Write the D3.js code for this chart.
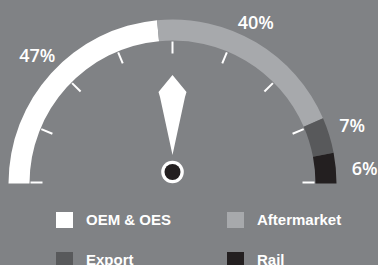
<!DOCTYPE html>
<html>
<head>
<meta charset="utf-8">
<script src="https://cdn.jsdelivr.net/npm/d3@7"></script>
<style>
  body { margin: 0; background: #808285; }
  svg { display: block; }
</style>
</head>
<body>
<script>
const categories = ["OEM & OES", "Aftermarket", "Export", "Rail"];
const shares = [47, 40, 7, 6];
const shareLabels = ["47%", "40%", "7%", "6%"];
const colors = ["#ffffff", "#a7a9ac", "#58595b", "#231f20"];
const tickSteps = d3.range(0, 9);

const width = 378, height = 265;
const cx = 172.5, cy = 183.5;
const outerR = 164, innerR = 143;

const svg = d3.select("body").append("svg")
    .attr("width", width)
    .attr("height", height);

const g = svg.append("g").attr("transform", `translate(${cx},${cy})`);

const pie = d3.pie()
    .sort(null)
    .startAngle(-Math.PI / 2)
    .endAngle(Math.PI / 2);

const arc = d3.arc().innerRadius(innerR).outerRadius(outerR);
const labelArc = d3.arc().innerRadius(187).outerRadius(187);

const slices = pie(shares);

g.selectAll("path.seg")
    .data(slices)
    .enter()
    .append("path")
    .attr("class", "seg")
    .attr("d", arc)
    .attr("fill", (d, i) => colors[i]);

// small hand nudges so the labels sit where the original put them
const nudge = [[3, -2], [-12, 0], [1, -3], [6, 3]];
g.selectAll("text.pct")
    .data(slices)
    .enter()
    .append("text")
    .attr("class", "pct")
    .attr("transform", (d, i) => {
        const c = labelArc.centroid(d);
        return `translate(${c[0] + nudge[i][0]},${c[1] + nudge[i][1]})`;
    })
    .attr("text-anchor", "middle")
    .attr("dy", "0.36em")
    .attr("fill", "#fff")
    .style("font-family", "'Open Sans', 'Liberation Sans', sans-serif")
    .style("font-weight", 600)
    .style("font-size", "18px")
    .text((d, i) => shareLabels[i]);

// tick marks
const tickAngle = d3.scaleLinear().domain([0, 8]).range([-Math.PI / 2, Math.PI / 2]);
g.selectAll("line.tick")
    .data(tickSteps)
    .enter()
    .append("line")
    .attr("class", "tick")
    .attr("x1", d => Math.sin(tickAngle(d)) * 130)
    .attr("y1", d => -Math.cos(tickAngle(d)) * 130 - (d === 0 || d === 8 ? 1 : 0))
    .attr("x2", d => Math.sin(tickAngle(d)) * 142)
    .attr("y2", d => -Math.cos(tickAngle(d)) * 142 - (d === 0 || d === 8 ? 1 : 0))
    .attr("stroke", "#fff")
    .attr("stroke-width", 2);

// needle
const hub = svg.append("g").attr("transform", `translate(${cx},172)`);
const needle = [[0, -97], [-14, -80], [-12.5, -75], [0, -17], [12.5, -75], [14, -80]];
hub.append("path")
    .attr("d", d3.line()(needle) + "Z")
    .attr("fill", "#fff");
hub.append("circle").attr("r", 11.3).attr("fill", "#fff");
hub.append("circle").attr("r", 8).attr("fill", "#231f20");

// legend
const legend = svg.append("g");
const items = legend.selectAll("g")
    .data(categories)
    .enter()
    .append("g")
    .attr("transform", (d, i) => `translate(${i % 2 === 0 ? 56 : 227},${212 + Math.floor(i / 2) * 40})`);

items.append("rect")
    .attr("width", 17)
    .attr("height", 16)
    .attr("fill", (d, i) => colors[i]);

items.append("text")
    .attr("x", 30)
    .attr("y", 12.5)
    .attr("fill", "#fff")
    .style("font-family", "'Liberation Sans Narrow', 'Arial Narrow', sans-serif")
    .style("font-weight", "bold")
    .style("font-size", "15px")
    .text(d => d);
</script>
</body>
</html>
